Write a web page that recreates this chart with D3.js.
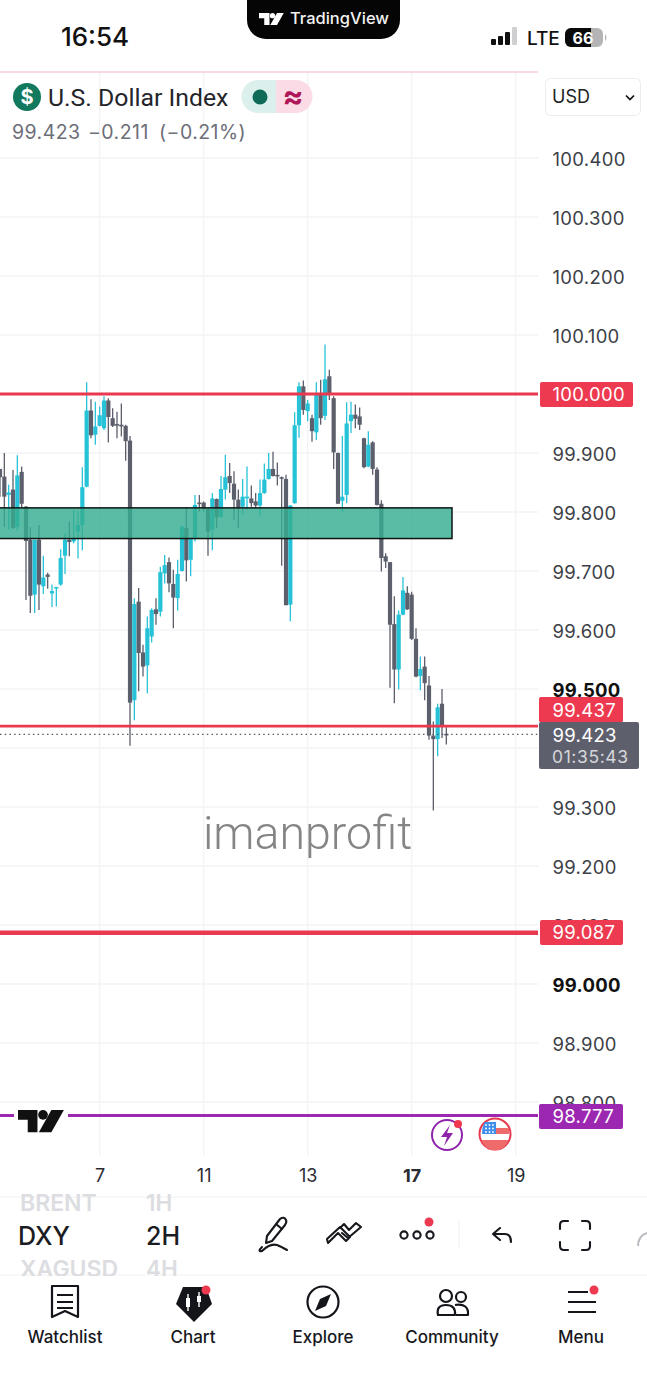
<!DOCTYPE html>
<html><head><meta charset="utf-8">
<script src="https://cdn.jsdelivr.net/npm/d3@7"></script>
<style>
html,body{margin:0;padding:0;background:#fff;overflow:hidden}
svg{display:block}
text{font-family:Inter,Roboto,sans-serif}
</style></head><body>
<div id="chart"></div>
<script>
// ---- data ----
const highs=[99.873,99.900,99.846,99.871,99.896,99.877,99.810,99.774,99.753,99.778,99.726,99.697,99.677,99.673,99.737,99.764,99.784,99.804,99.801,99.876,100.020,99.991,99.987,99.979,99.996,99.993,99.976,99.970,99.984,99.948,99.929,99.654,99.671,99.575,99.623,99.637,99.654,99.707,99.727,99.723,99.702,99.719,99.777,99.808,99.756,99.829,99.829,99.818,99.807,99.832,99.823,99.861,99.897,99.883,99.869,99.838,
99.856,99.877,99.845,99.832,99.855,99.882,99.900,99.902,99.884,99.860,99.863,99.812,99.969,100.020,100.023,99.990,99.965,100.020,100.024,100.084,100.041,99.996,99.901,99.929,99.986,99.987,99.982,99.977,99.926,99.937,99.920,99.876,99.820,99.730,99.715,99.657,99.633,99.690,99.674,99.665,99.603,99.555,99.555,99.522,99.445,99.475,99.500,99.435];
const lows=[99.826,99.775,99.770,99.771,99.769,99.807,99.651,99.629,99.629,99.634,99.661,99.670,99.639,99.640,99.675,99.695,99.725,99.747,99.721,99.735,99.842,99.925,99.914,99.945,99.939,99.918,99.944,99.925,99.928,99.887,99.404,99.447,99.496,99.521,99.493,99.579,99.609,99.623,99.679,99.664,99.603,99.633,99.699,99.682,99.691,99.750,99.801,99.801,99.726,99.735,99.773,99.790,99.821,99.832,99.787,99.773,
99.795,99.804,99.809,99.807,99.793,99.831,99.855,99.860,99.845,99.709,99.642,99.615,99.814,99.926,99.965,99.954,99.919,99.922,99.948,99.956,99.990,99.873,99.814,99.800,99.815,99.934,99.942,99.939,99.874,99.876,99.863,99.811,99.699,99.705,99.502,99.476,99.499,99.625,99.634,99.583,99.520,99.498,99.481,99.414,99.294,99.386,99.417,99.406];
const opens=[99.873,99.860,99.829,99.838,99.775,99.868,99.809,99.753,99.660,99.753,99.674,99.694,99.662,99.671,99.677,99.726,99.753,99.750,99.767,99.778,99.843,99.972,99.931,99.946,99.942,99.989,99.959,99.949,99.948,99.946,99.921,99.481,99.648,99.562,99.540,99.589,99.635,99.631,99.696,99.715,99.678,99.654,99.700,99.773,99.719,99.756,99.816,99.816,99.805,99.770,99.822,99.792,99.838,99.861,99.848,99.821,
99.809,99.825,99.823,99.818,99.811,99.832,99.856,99.873,99.863,99.859,99.856,99.643,99.815,99.947,100.013,99.971,99.959,99.935,99.999,99.963,100.030,99.993,99.900,99.819,99.829,99.954,99.965,99.962,99.925,99.877,99.918,99.872,99.814,99.725,99.715,99.610,99.533,99.626,99.663,99.660,99.585,99.522,99.538,99.506,99.421,99.415,99.475,99.424];
const closes=[99.859,99.826,99.833,99.773,99.862,99.814,99.751,99.658,99.753,99.677,99.689,99.690,99.666,99.673,99.722,99.753,99.749,99.756,99.778,99.842,99.972,99.930,99.945,99.964,99.989,99.961,99.946,99.947,99.945,99.920,99.477,99.644,99.561,99.538,99.603,99.634,99.627,99.698,99.710,99.679,99.655,99.695,99.775,99.718,99.754,99.812,99.814,99.807,99.767,99.823,99.791,99.839,99.859,99.849,99.821,99.807,
99.826,99.826,99.815,99.811,99.832,99.855,99.873,99.861,99.861,99.857,99.642,99.811,99.947,100.013,99.973,99.984,99.937,99.999,99.959,100.025,99.999,99.901,99.814,99.826,99.950,99.965,99.958,99.948,99.876,99.914,99.873,99.812,99.722,99.716,99.609,99.533,99.626,99.667,99.635,99.585,99.521,99.534,99.510,99.421,99.415,99.469,99.437,99.422];
const priceTicks=[100.4,100.3,100.2,100.1,99.9,99.8,99.7,99.6,99.5,99.3,99.2,99.1,99.0,98.9,98.8];
const boldTicks=[99.5,99.0];
const dateLabels=["7","11","13","17","19"];
const dateIndex=[23,47,71,95,119];
const levelPrices=[100.000,99.437,99.087,98.777];
const levelColors=["#e8394f","#e8394f","#e8394f","#9c27b0"];
const levelWidths=[3,2.6,4.5,3];
const lastPrice=99.423, countdown="01:35:43";
const zone=[99.807,99.755];
const watermark="imanprofit";
const navLabels=["Watchlist","Chart","Explore","Community","Menu"];

// ---- layout ----
const W=647,H=1400,plotR=538;
const svg=d3.select("#chart").append("svg").attr("width",W).attr("height",H).attr("viewBox",`0 0 ${W} ${H}`);
const x=d3.scaleLinear().domain([0,119]).range([0,515.67]);
const y=d3.scaleLinear().domain([100.4,99.0]).range([158,984]);
const UP="#28c3d8",DOWN="#5c5f6c";

const defs=svg.append("defs");
defs.append("filter").attr("id","soft").attr("x","-5%").attr("y","-5%").attr("width","110%").attr("height","110%")
  .append("feGaussianBlur").attr("stdDeviation",0.55);
defs.append("filter").attr("id","softer").attr("x","-5%").attr("y","-5%").attr("width","110%").attr("height","110%")
  .append("feGaussianBlur").attr("stdDeviation",0.4);

// grid
const grid=svg.append("g").attr("stroke","#f3f3f6").attr("stroke-width",1.4);
grid.selectAll(".h").data(priceTicks.concat([100.0,99.4])).join("line").attr("x1",0).attr("x2",plotR).attr("y1",d=>y(d)).attr("y2",d=>y(d));
grid.selectAll(".v").data(dateIndex).join("line").attr("x1",d=>x(d)).attr("x2",d=>x(d)).attr("y1",72).attr("y2",1155);
svg.append("line").attr("x1",0).attr("x2",plotR).attr("y1",72).attr("y2",72).attr("stroke","#eea3b1").attr("stroke-width",.8);

// candles
const idx=d3.range(highs.length);
const colour=i=>closes[i]>=opens[i]?UP:DOWN;
const cg=svg.append("g").attr("filter","url(#soft)");
cg.selectAll(".w").data(idx).join("line").attr("x1",i=>x(i)).attr("x2",i=>x(i))
  .attr("y1",i=>y(highs[i])).attr("y2",i=>y(lows[i])).attr("stroke",colour).attr("stroke-width",1.3);
cg.selectAll(".b").data(idx).join("rect").attr("x",i=>x(i)-2.1).attr("width",4.2)
  .attr("y",i=>y(Math.max(opens[i],closes[i])))
  .attr("height",i=>Math.max(1.6,Math.abs(y(opens[i])-y(closes[i])))).attr("fill",colour);

// zone
svg.append("rect").attr("x",-3).attr("y",y(zone[0])).attr("width",455).attr("height",y(zone[1])-y(zone[0]))
  .attr("fill","#36ad90").attr("fill-opacity",.82).attr("stroke","#0c1512").attr("stroke-width",1.5);

// dotted last line
svg.append("line").attr("x1",0).attr("x2",plotR).attr("y1",y(lastPrice)).attr("y2",y(lastPrice))
  .attr("stroke","#555863").attr("stroke-width",1.2).attr("stroke-dasharray","1.5 3.2");

// level lines
svg.selectAll(".lvl").data(levelPrices).join("line").attr("x1",0).attr("x2",plotR)
  .attr("y1",d=>y(d)).attr("y2",d=>y(d)).attr("stroke",(d,i)=>levelColors[i]).attr("stroke-width",(d,i)=>levelWidths[i]);

// watermark
svg.append("text").attr("x",307.5).attr("y",849).attr("text-anchor","middle").attr("font-size",46.5).attr("font-weight",300)
  .attr("fill","#858587").attr("filter","url(#softer)").style("font-family","Roboto").text(watermark);

// price axis
const yAxis=d3.axisRight(y).tickValues(priceTicks).tickSize(0).tickPadding(0).tickFormat(d3.format(".3f"));
const ya=svg.append("g").attr("transform","translate(552.5,1.3)").call(yAxis);
ya.select(".domain").remove();
ya.selectAll("text").attr("x",0).attr("text-anchor","start").attr("font-size",18.5).attr("letter-spacing",.3)
  .attr("fill",d=>boldTicks.includes(d)?"#111":"#3d3f48").attr("font-weight",d=>boldTicks.includes(d)?700:400)
  .style("font-family","Inter");

// time axis
const xAxis=d3.axisBottom(x).tickValues(dateIndex).tickSize(0).tickPadding(0).tickFormat((d,i)=>dateLabels[i]);
const xa=svg.append("g").attr("transform","translate(0,1169)").call(xAxis);
xa.select(".domain").remove();
xa.selectAll("text").attr("font-size",18).attr("fill","#2b2c33").attr("font-weight",(d,i)=>dateLabels[i]==="17"?700:400).style("font-family","Inter");

// price tags
function tag(px,py,w,h,c,t,tc){
  svg.append("rect").attr("x",px).attr("y",py).attr("width",w).attr("height",h).attr("rx",2).attr("fill",c);
  if(t) svg.append("text").attr("x",552.5).attr("y",py+h/2+6.8).attr("font-size",18.5).attr("letter-spacing",.3).attr("fill",tc||"#fff").text(t);
}
tag(540,382,93,25,"#ee3a50",levelPrices[0].toFixed(3));
tag(539,697,84,25.5,"#ee3a50",levelPrices[1].toFixed(3));
tag(539,722,100,47,"#5d606c");
svg.append("text").attr("x",552.5).attr("y",742).attr("font-size",18.5).attr("letter-spacing",.3).attr("fill","#fff").text(lastPrice.toFixed(3));
svg.append("text").attr("x",552).attr("y",763).attr("font-size",17.5).attr("letter-spacing",.6).attr("fill","#d5d6da").text(countdown);
tag(540,920,83,25,"#ee3a50",levelPrices[2].toFixed(3));
tag(539,1104,84,25,"#9c27b0",levelPrices[3].toFixed(3));

// TV logo
function tvLogo(g,px,py,s,c){
  const n=g.append("g").attr("transform",`translate(${px},${py}) scale(${s})`).attr("fill",c);
  n.append("path").attr("d","M0 0H14V16H7V7H0Z");
  n.append("circle").attr("cx",18).attr("cy",3.5).attr("r",3.5);
  n.append("path").attr("d","M24 0H33L24 16H15Z");
}
svg.append("rect").attr("x",14).attr("y",1104).attr("width",54).attr("height",26).attr("fill","#fff");
tvLogo(svg,18,1110,1.39,"#111");

// events
svg.append("circle").attr("cx",447).attr("cy",1135).attr("r",15).attr("fill","#fff").attr("stroke","#8e24aa").attr("stroke-width",2);
svg.append("path").attr("d","M450 1125L441 1137H447L444 1146L453 1133H447Z").attr("fill","#8e24aa");
svg.append("circle").attr("cx",458).attr("cy",1124).attr("r",4).attr("fill","#f0394f");
svg.append("circle").attr("cx",495).attr("cy",1134).attr("r",15.5).attr("fill","#fff").attr("stroke","#e8394f").attr("stroke-width",2);
svg.append("path").attr("d","M481.5 1140H508.5A14 14 0 0 1 481.5 1140Z").attr("fill","#ef6a6a");
svg.append("path").attr("d","M485 1122H496V1134H482Q482 1126 485 1122Z").attr("fill","#3f8fea");
svg.append("rect").attr("x",496).attr("y",1128).attr("width",13).attr("height",6).attr("fill","#ef6a6a");
svg.append("g").selectAll("circle").data(d3.cross([486,489.5,493],[1125,1128.5,1132])).join("circle")
  .attr("cx",d=>d[0]).attr("cy",d=>d[1]).attr("r",.9).attr("fill","#fff");

// status bar
svg.append("text").attr("x",95).attr("y",46).attr("text-anchor","middle").attr("font-size",26).attr("font-weight",500).attr("fill","#111").text("16:54");
svg.append("path").attr("d","M247 0H400V20A19 19 0 0 1 381 39H266A19 19 0 0 1 247 20Z").attr("fill","#050505");
tvLogo(svg,259,13,.75,"#fff");
svg.append("text").attr("x",290).attr("y",24).attr("font-size",16.5).attr("font-weight",500).attr("fill","#f2f2f2").text("TradingView");
[[491,6],[498,9],[505,13],[512,18]].forEach((b,i)=>svg.append("rect").attr("x",b[0]).attr("y",45-b[1]).attr("width",5).attr("height",b[1]).attr("rx",1).attr("fill",i===3?"#cfcfd2":"#111"));
svg.append("text").attr("x",527).attr("y",45).attr("font-size",19).attr("font-weight",500).attr("fill","#111").text("LTE");
svg.append("rect").attr("x",565).attr("y",28).attr("width",38).attr("height",19).attr("rx",6).attr("fill","#b4b4b6");
svg.append("path").attr("d","M571 28H591V47H571A6 6 0 0 1 565 41V34A6 6 0 0 1 571 28Z").attr("fill","#0a0a0a");
svg.append("path").attr("d","M605 34Q608 37.5 605 41Z").attr("fill","#b4b4b6");
svg.append("text").attr("x",583).attr("y",43.5).attr("text-anchor","middle").attr("font-size",16).attr("font-weight",700).attr("fill","#fff").text("66");

// header
svg.append("circle").attr("cx",27).attr("cy",97).attr("r",14).attr("fill","#12795f");
svg.append("text").attr("x",27).attr("y",104).attr("text-anchor","middle").attr("font-size",20).attr("font-weight",700).attr("fill","#fff").text("$");
svg.append("text").attr("x",48).attr("y",106).attr("font-size",24.8).attr("fill","#24252b").style("font-family","Roboto").text("U.S. Dollar Index");
svg.append("path").attr("d","M276 80H258A16.5 16.5 0 0 0 258 113H276Z").attr("fill","#dbefec");
svg.append("path").attr("d","M276 80H296A16.5 16.5 0 0 1 296 113H276Z").attr("fill","#fbdbe5");
svg.append("circle").attr("cx",260).attr("cy",97).attr("r",7.5).attr("fill","#0f6b57");
svg.append("text").attr("x",293).attr("y",107).attr("text-anchor","middle").attr("font-size",31).attr("font-weight",700).attr("fill","#b0175a").text("≈");
[["99.423",12],["−0.211",88],["(−0.21%)",159]].forEach(a=>svg.append("text").attr("x",a[1]).attr("y",139).attr("font-size",19.5).attr("letter-spacing",.45).attr("fill","#6c6e78").text(a[0]));
svg.append("rect").attr("x",545.5).attr("y",78.5).attr("width",95).attr("height",37).attr("rx",5).attr("fill","#fff").attr("stroke","#ececef");
svg.append("text").attr("x",552).attr("y",103).attr("font-size",18).attr("fill","#222").text("USD");
svg.append("path").attr("d","M626 95.5L630 99.5L634 95.5").attr("fill","none").attr("stroke","#111").attr("stroke-width",1.7);

// toolbar
[1197,1275].forEach(v=>svg.append("line").attr("x1",0).attr("x2",W).attr("y1",v).attr("y2",v).attr("stroke","#f1f1f3").attr("stroke-width",1));
defs.append("clipPath").attr("id","tb").append("rect").attr("x",0).attr("y",1194).attr("width",W).attr("height",82);
defs.append("clipPath").attr("id","xag").append("rect").attr("x",0).attr("y",1250).attr("width",118).attr("height",30);
const tb=svg.append("g").attr("clip-path","url(#tb)");
tb.append("text").attr("x",20).attr("y",1211).attr("font-size",23).attr("font-weight",600).attr("fill","#dcdde1").text("BRENT");
tb.append("g").attr("clip-path","url(#xag)").append("text").attr("x",20).attr("y",1277).attr("font-size",23).attr("font-weight",600).attr("fill","#dcdde1").text("XAGUSD");
[["1H",1211],["4H",1277]].forEach(a=>tb.append("text").attr("x",146).attr("y",a[1]).attr("font-size",22.5).attr("font-weight",600).attr("fill","#dcdde1").text(a[0]));
svg.append("text").attr("x",18).attr("y",1245).attr("font-size",25).attr("font-weight",500).attr("fill","#1b1c22").text("DXY");
svg.append("text").attr("x",146).attr("y",1245).attr("font-size",25).attr("font-weight",500).attr("fill","#1b1c22").text("2H");
const icon=svg.append("g").attr("fill","none").attr("stroke","#17181d").attr("stroke-width",2.1).attr("stroke-linecap","round").attr("stroke-linejoin","round");
icon.append("path").attr("d","M267 1236L280 1219Q284 1216 286 1220Q287 1222 285 1225L272 1241L266 1243Z M276 1224L282 1229");
icon.append("path").attr("d","M262 1247Q257 1252 262 1251Q270 1243 277 1245Q282 1247 287 1250");
icon.append("path").attr("d","M328 1243L338 1233L346 1241L350 1237L340 1227L327 1239Z M342 1233L348 1238L361 1227L356 1223L349 1230L344 1224L340 1228");
[404,417,430].forEach(c=>icon.append("circle").attr("cx",c).attr("cy",1235).attr("r",3.6));
svg.append("circle").attr("cx",429).attr("cy",1222).attr("r",4.5).attr("fill","#ee3a50");
svg.append("line").attr("x1",459).attr("x2",459).attr("y1",1221).attr("y2",1249).attr("stroke","#efeff1");
icon.append("path").attr("d","M500 1228L493 1234L500 1240M493 1234H505Q511 1234 511 1242");
icon.append("path").attr("d","M560 1229V1225Q560 1221 564 1221H568M582 1221H586Q590 1221 590 1225V1229M590 1242V1246Q590 1250 586 1250H582M568 1250H564Q560 1250 560 1246V1242");
svg.append("path").attr("d","M638 1246Q638 1236 647 1233").attr("fill","none").attr("stroke","#b9bac0").attr("stroke-width",2);

// nav
const navX=[65,193,323,452,581];
svg.append("g").selectAll("text").data(navLabels).join("text").attr("x",(d,i)=>navX[i]).attr("y",1342.5)
  .attr("text-anchor","middle").attr("font-size",17).attr("font-weight",500).attr("fill","#17181d").text(d=>d);
const nav=svg.append("g").attr("fill","none").attr("stroke","#14151a").attr("stroke-width",2.2).attr("stroke-linejoin","round");
nav.append("path").attr("d","M52 1286H78V1317L65 1311L52 1317Z M57 1295H73M57 1302H73M57 1308H73");
svg.append("path").attr("d","M183 1287H206L212 1304L194 1322L176 1304Z").attr("fill","#14151a");
svg.append("rect").attr("x",186).attr("y",1298).attr("width",4).attr("height",9).attr("fill","#fff");
svg.append("line").attr("x1",188).attr("x2",188).attr("y1",1294).attr("y2",1311).attr("stroke","#fff").attr("stroke-width",1.4);
svg.append("rect").attr("x",197).attr("y",1296).attr("width",4).attr("height",6).attr("fill","#fff");
svg.append("line").attr("x1",199).attr("x2",199).attr("y1",1292).attr("y2",1307).attr("stroke","#fff").attr("stroke-width",1.4);
svg.append("circle").attr("cx",206).attr("cy",1290).attr("r",4.5).attr("fill","#ee3a50");
nav.append("circle").attr("cx",323).attr("cy",1302).attr("r",15.5);
svg.append("path").attr("d","M331 1294L326 1306L315 1311L320 1299Z").attr("fill","#14151a");
nav.append("circle").attr("cx",446).attr("cy",1296).attr("r",6);
nav.append("circle").attr("cx",461).attr("cy",1297).attr("r",5);
nav.append("path").attr("d","M438 1315Q436 1305 446 1305Q456 1305 455 1315Z M455 1305Q469 1303 468 1315H456");
nav.append("path").attr("d","M568 1292H588M568 1302H596M568 1312H596").attr("stroke-linecap","butt");
svg.append("circle").attr("cx",594).attr("cy",1290).attr("r",4.5).attr("fill","#ee3a50");
</script>
</body></html>
